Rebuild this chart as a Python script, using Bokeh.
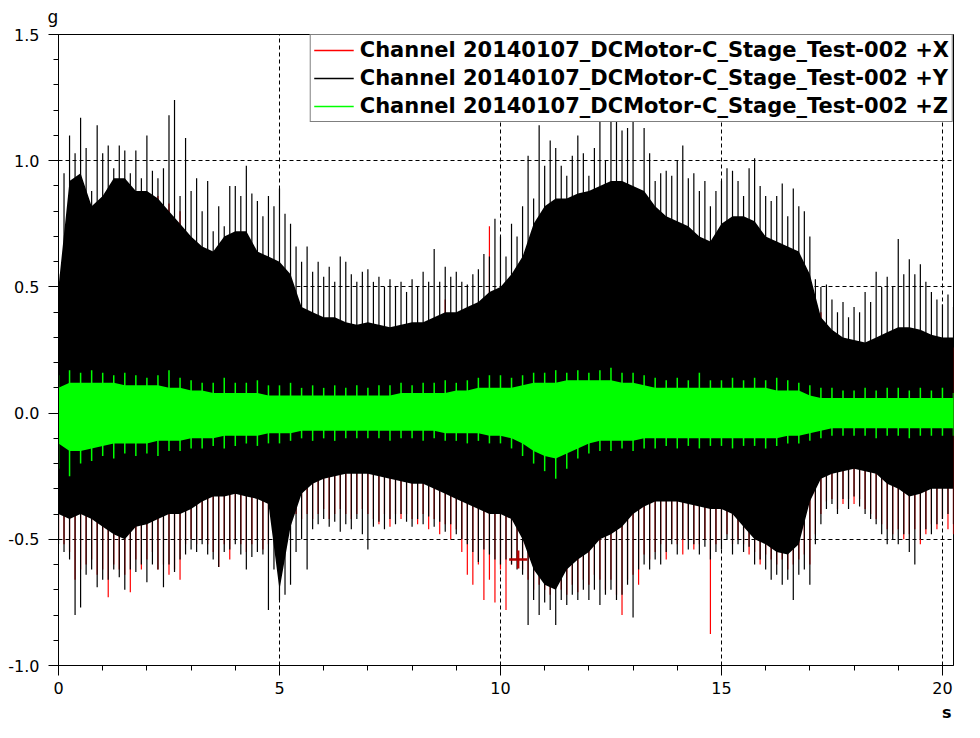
from bokeh.plotting import figure
from bokeh.models import Range1d, FixedTicker, Legend, LegendItem, Title
from bokeh.embed import file_html
from bokeh.resources import INLINE

# coarse time samples (s) for dense envelopes
t = [0.0, 0.25, 0.5, 0.75, 1.0, 1.25, 1.5, 1.75, 2.0, 2.25, 2.5, 2.75,
     3.0, 3.25, 3.5, 3.75, 4.0, 4.25, 4.5, 4.75, 5.0, 5.25, 5.5, 5.75,
     6.0, 6.25, 6.5, 6.75, 7.0, 7.25, 7.5, 7.75, 8.0, 8.25, 8.5, 8.75,
     9.0, 9.25, 9.5, 9.75, 10.0, 10.25, 10.5, 10.75, 11.0, 11.25, 11.5, 11.75,
     12.0, 12.25, 12.5, 12.75, 13.0, 13.25, 13.5, 13.75, 14.0, 14.25, 14.5, 14.75,
     15.0, 15.25, 15.5, 15.75, 16.0, 16.25, 16.5, 16.75, 17.0, 17.25, 17.5, 17.75,
     18.0, 18.25, 18.5, 18.75, 19.0, 19.25, 19.5, 19.75, 20.0, 20.25]

# fine time samples (s) for spike peaks
ts = [0.0, 0.125, 0.25, 0.375, 0.5, 0.625, 0.75, 0.875, 1.0, 1.125, 1.25, 1.375,
      1.5, 1.625, 1.75, 1.875, 2.0, 2.125, 2.25, 2.375, 2.5, 2.625, 2.75, 2.875,
      3.0, 3.125, 3.25, 3.375, 3.5, 3.625, 3.75, 3.875, 4.0, 4.125, 4.25, 4.375,
      4.5, 4.625, 4.75, 4.875, 5.0, 5.125, 5.25, 5.375, 5.5, 5.625, 5.75, 5.875,
      6.0, 6.125, 6.25, 6.375, 6.5, 6.625, 6.75, 6.875, 7.0, 7.125, 7.25, 7.375,
      7.5, 7.625, 7.75, 7.875, 8.0, 8.125, 8.25, 8.375, 8.5, 8.625, 8.75, 8.875,
      9.0, 9.125, 9.25, 9.375, 9.5, 9.625, 9.75, 9.875, 10.0, 10.125, 10.25, 10.375,
      10.5, 10.625, 10.75, 10.875, 11.0, 11.125, 11.25, 11.375, 11.5, 11.625, 11.75, 11.875,
      12.0, 12.125, 12.25, 12.375, 12.5, 12.625, 12.75, 12.875, 13.0, 13.125, 13.25, 13.375,
      13.5, 13.625, 13.75, 13.875, 14.0, 14.125, 14.25, 14.375, 14.5, 14.625, 14.75, 14.875,
      15.0, 15.125, 15.25, 15.375, 15.5, 15.625, 15.75, 15.875, 16.0, 16.125, 16.25, 16.375,
      16.5, 16.625, 16.75, 16.875, 17.0, 17.125, 17.25, 17.375, 17.5, 17.625, 17.75, 17.875,
      18.0, 18.125, 18.25, 18.375, 18.5, 18.625, 18.75, 18.875, 19.0, 19.125, 19.25, 19.375,
      19.5, 19.625, 19.75, 19.875, 20.0, 20.125, 20.25]

# Channel +Y (black), g
y_top_solid = [0.50, 0.92, 0.95, 0.82, 0.86, 0.93, 0.93, 0.88, 0.88, 0.85, 0.80, 0.75,
               0.70, 0.66, 0.64, 0.70, 0.72, 0.72, 0.64, 0.62, 0.60, 0.55, 0.42, 0.40,
               0.38, 0.38, 0.36, 0.35, 0.36, 0.35, 0.34, 0.35, 0.36, 0.36, 0.38, 0.40,
               0.40, 0.42, 0.44, 0.48, 0.50, 0.55, 0.62, 0.75, 0.82, 0.85, 0.85, 0.87,
               0.88, 0.90, 0.92, 0.92, 0.90, 0.88, 0.82, 0.78, 0.76, 0.74, 0.70, 0.68,
               0.75, 0.78, 0.78, 0.76, 0.70, 0.68, 0.66, 0.64, 0.55, 0.38, 0.33, 0.30,
               0.29, 0.28, 0.30, 0.32, 0.34, 0.34, 0.33, 0.31, 0.30, 0.30]
y_bot_solid = [-0.40, -0.42, -0.40, -0.42, -0.45, -0.48, -0.50, -0.45, -0.44, -0.42, -0.40, -0.40,
               -0.38, -0.35, -0.33, -0.33, -0.32, -0.33, -0.34, -0.36, -0.70, -0.45, -0.32, -0.28,
               -0.26, -0.25, -0.24, -0.24, -0.24, -0.25, -0.26, -0.27, -0.28, -0.28, -0.30, -0.32,
               -0.34, -0.36, -0.38, -0.40, -0.40, -0.42, -0.50, -0.62, -0.68, -0.70, -0.62, -0.58,
               -0.55, -0.50, -0.48, -0.45, -0.40, -0.37, -0.35, -0.35, -0.35, -0.36, -0.37, -0.38,
               -0.38, -0.40, -0.45, -0.50, -0.52, -0.55, -0.56, -0.52, -0.35, -0.26, -0.24, -0.23,
               -0.22, -0.23, -0.24, -0.28, -0.30, -0.33, -0.32, -0.30, -0.30, -0.30]
y_top_peak = [0.55, 0.95, 1.10, 1.03, 1.17, 1.05, 0.88, 1.14, 1.03, 1.06, 0.97, 1.06,
              1.04, 0.95, 1.04, 0.93, 1.10, 0.96, 0.93, 0.97, 1.18, 1.24, 0.86, 1.09,
              0.88, 0.93, 0.80, 0.92, 0.72, 0.82, 0.74, 0.90, 0.90, 0.86, 0.98, 0.87,
              0.84, 0.78, 0.86, 0.82, 0.89, 0.79, 0.75, 0.66, 0.60, 0.66, 0.56, 0.60,
              0.54, 0.58, 0.52, 0.62, 0.60, 0.55, 0.52, 0.56, 0.57, 0.52, 0.54, 0.50,
              0.53, 0.50, 0.52, 0.48, 0.53, 0.50, 0.56, 0.52, 0.65, 0.52, 0.58, 0.54,
              0.56, 0.52, 0.51, 0.55, 0.57, 0.63, 0.62, 0.77, 0.70, 0.62, 0.75, 0.70,
              0.82, 1.02, 0.85, 1.14, 0.98, 1.08, 1.05, 0.98, 0.94, 1.02, 1.10, 1.03,
              0.94, 1.05, 1.18, 1.00, 1.18, 1.16, 1.12, 1.13, 1.18, 0.88, 1.13, 1.03,
              0.92, 0.95, 0.96, 0.94, 1.00, 1.06, 0.93, 0.95, 0.88, 0.92, 0.82, 0.88,
              0.92, 0.97, 0.96, 0.92, 0.86, 0.97, 1.01, 0.90, 0.86, 0.84, 0.86, 0.91,
              0.78, 0.89, 0.82, 0.80, 0.70, 0.53, 0.50, 0.51, 0.45, 0.40, 0.44, 0.38,
              0.42, 0.40, 0.48, 0.44, 0.56, 0.50, 0.54, 0.50, 0.69, 0.55, 0.61, 0.55,
              0.59, 0.52, 0.48, 0.45, 0.43, 0.47, 0.42]
y_bot_peak = [-0.52, -0.55, -0.58, -0.80, -0.77, -0.64, -0.62, -0.69, -0.66, -0.66, -0.62, -0.65,
              -0.70, -0.62, -0.63, -0.60, -0.67, -0.60, -0.62, -0.69, -0.60, -0.63, -0.58, -0.56,
              -0.54, -0.55, -0.52, -0.56, -0.58, -0.61, -0.55, -0.54, -0.52, -0.56, -0.62, -0.57,
              -0.55, -0.56, -0.78, -0.62, -0.74, -0.72, -0.68, -0.55, -0.50, -0.62, -0.46, -0.44,
              -0.42, -0.45, -0.43, -0.47, -0.44, -0.46, -0.42, -0.48, -0.54, -0.45, -0.43, -0.46,
              -0.42, -0.44, -0.40, -0.43, -0.45, -0.42, -0.44, -0.41, -0.45, -0.43, -0.47, -0.44,
              -0.48, -0.50, -0.52, -0.55, -0.59, -0.54, -0.56, -0.58, -0.60, -0.58, -0.60, -0.62,
              -0.64, -0.84, -0.74, -0.80, -0.75, -0.78, -0.84, -0.74, -0.76, -0.72, -0.74, -0.70,
              -0.74, -0.70, -0.76, -0.72, -0.70, -0.74, -0.72, -0.68, -0.81, -0.62, -0.60, -0.62,
              -0.58, -0.60, -0.55, -0.52, -0.56, -0.50, -0.54, -0.52, -0.56, -0.53, -0.58, -0.55,
              -0.54, -0.50, -0.56, -0.52, -0.55, -0.53, -0.60, -0.58, -0.62, -0.66, -0.64, -0.68,
              -0.66, -0.74, -0.64, -0.62, -0.68, -0.52, -0.44, -0.38, -0.36, -0.40, -0.34, -0.38,
              -0.33, -0.37, -0.40, -0.42, -0.44, -0.48, -0.52, -0.50, -0.52, -0.48, -0.55, -0.60,
              -0.50, -0.46, -0.48, -0.44, -0.42, -0.40, -0.44]

# Channel +X (red), g
x_top_peak = [0.50, 0.80, 0.85, 0.82, 0.86, 0.88, 0.84, 0.80, 0.84, 0.86, 0.83, 0.80,
              0.68, 0.64, 0.60, 0.64, 0.68, 0.66, 0.62, 0.60, 0.55, 0.42, 0.36, 0.33,
              0.31, 0.30, 0.28, 0.26, 0.28, 0.26, 0.25, 0.25, 0.26, 0.28, 0.28, 0.45,
              0.34, 0.36, 0.38, 0.74, 0.42, 0.46, 0.58, 0.70, 0.76, 0.80, 0.82, 0.84,
              0.86, 0.88, 0.90, 0.88, 0.86, 0.84, 0.78, 0.72, 0.70, 0.68, 0.66, 0.64,
              0.70, 0.72, 0.72, 0.68, 0.64, 0.62, 0.58, 0.56, 0.48, 0.40, 0.28, 0.26,
              0.24, 0.23, 0.22, 0.20, 0.22, 0.24, 0.25, 0.24, 0.23, 0.26]
x_bot_peak = [-0.50, -0.52, -0.55, -0.66, -0.62, -0.60, -0.58, -0.64, -0.62, -0.73, -0.60, -0.62,
              -0.64, -0.71, -0.58, -0.62, -0.58, -0.55, -0.62, -0.60, -0.64, -0.62, -0.66, -0.52,
              -0.50, -0.52, -0.50, -0.52, -0.55, -0.61, -0.52, -0.58, -0.50, -0.52, -0.55, -0.52,
              -0.50, -0.54, -0.52, -0.50, -0.60, -0.55, -0.42, -0.40, -0.42, -0.40, -0.42, -0.40,
              -0.38, -0.42, -0.40, -0.38, -0.40, -0.42, -0.40, -0.38, -0.40, -0.42, -0.44, -0.40,
              -0.45, -0.40, -0.42, -0.40, -0.42, -0.44, -0.40, -0.46, -0.42, -0.48, -0.44, -0.50,
              -0.46, -0.55, -0.64, -0.68, -0.60, -0.74, -0.66, -0.75, -0.62, -0.78, -0.60, -0.58,
              -0.62, -0.66, -0.70, -0.68, -0.70, -0.72, -0.68, -0.70, -0.72, -0.68, -0.71, -0.66,
              -0.68, -0.64, -0.66, -0.70, -0.66, -0.72, -0.80, -0.66, -0.64, -0.68, -0.56, -0.58,
              -0.55, -0.52, -0.58, -0.50, -0.52, -0.56, -0.50, -0.54, -0.52, -0.50, -0.875, -0.52,
              -0.50, -0.48, -0.52, -0.50, -0.52, -0.56, -0.55, -0.60, -0.56, -0.58, -0.60, -0.58,
              -0.62, -0.60, -0.58, -0.56, -0.60, -0.48, -0.40, -0.35, -0.34, -0.38, -0.36, -0.34,
              -0.36, -0.34, -0.38, -0.40, -0.42, -0.44, -0.46, -0.48, -0.46, -0.50, -0.48, -0.46,
              -0.52, -0.48, -0.44, -0.46, -0.42, -0.46, -0.48]

# Channel +Z (green), g
z_top_solid = [0.10, 0.12, 0.12, 0.12, 0.12, 0.12, 0.11, 0.11, 0.11, 0.11, 0.10, 0.10,
               0.09, 0.09, 0.08, 0.08, 0.08, 0.08, 0.08, 0.07, 0.07, 0.07, 0.07, 0.07,
               0.07, 0.07, 0.07, 0.07, 0.07, 0.07, 0.07, 0.08, 0.08, 0.08, 0.08, 0.08,
               0.09, 0.09, 0.10, 0.10, 0.10, 0.10, 0.11, 0.12, 0.12, 0.12, 0.13, 0.13,
               0.13, 0.13, 0.13, 0.12, 0.12, 0.11, 0.10, 0.10, 0.10, 0.10, 0.10, 0.10,
               0.10, 0.10, 0.10, 0.10, 0.10, 0.09, 0.09, 0.09, 0.07, 0.06, 0.06, 0.06,
               0.06, 0.06, 0.06, 0.06, 0.06, 0.06, 0.06, 0.06, 0.06, 0.06]
z_top_peak = [0.15, 0.17, 0.16, 0.17, 0.16, 0.15, 0.16, 0.15, 0.14, 0.15, 0.17, 0.14,
              0.13, 0.12, 0.12, 0.14, 0.12, 0.12, 0.13, 0.11, 0.11, 0.12, 0.10, 0.11,
              0.10, 0.11, 0.10, 0.11, 0.10, 0.11, 0.11, 0.12, 0.11, 0.12, 0.12, 0.13,
              0.12, 0.13, 0.14, 0.15, 0.15, 0.14, 0.15, 0.16, 0.16, 0.17, 0.16, 0.17,
              0.16, 0.17, 0.18, 0.16, 0.16, 0.15, 0.14, 0.13, 0.14, 0.13, 0.16, 0.13,
              0.13, 0.14, 0.13, 0.14, 0.13, 0.14, 0.13, 0.12, 0.11, 0.10, 0.10, 0.09,
              0.09, 0.10, 0.09, 0.10, 0.10, 0.09, 0.10, 0.09, 0.10, 0.08]
z_bot_solid = [-0.12, -0.15, -0.15, -0.14, -0.13, -0.12, -0.12, -0.12, -0.12, -0.11, -0.11, -0.11,
               -0.10, -0.10, -0.10, -0.09, -0.09, -0.09, -0.09, -0.08, -0.08, -0.08, -0.07, -0.07,
               -0.07, -0.07, -0.07, -0.07, -0.07, -0.07, -0.07, -0.07, -0.07, -0.07, -0.07, -0.08,
               -0.08, -0.08, -0.08, -0.09, -0.09, -0.10, -0.12, -0.15, -0.17, -0.18, -0.16, -0.14,
               -0.12, -0.11, -0.11, -0.11, -0.11, -0.10, -0.10, -0.10, -0.10, -0.10, -0.10, -0.10,
               -0.10, -0.10, -0.10, -0.10, -0.10, -0.10, -0.09, -0.09, -0.08, -0.07, -0.06, -0.06,
               -0.06, -0.06, -0.06, -0.06, -0.06, -0.06, -0.06, -0.06, -0.06, -0.06]
z_bot_peak = [-0.22, -0.25, -0.20, -0.19, -0.17, -0.18, -0.16, -0.17, -0.16, -0.17, -0.15, -0.15,
              -0.14, -0.14, -0.13, -0.14, -0.13, -0.12, -0.13, -0.12, -0.12, -0.11, -0.10, -0.11,
              -0.10, -0.11, -0.10, -0.10, -0.10, -0.10, -0.11, -0.10, -0.10, -0.11, -0.10, -0.11,
              -0.11, -0.12, -0.11, -0.12, -0.12, -0.14, -0.17, -0.20, -0.23, -0.26, -0.22, -0.18,
              -0.16, -0.15, -0.15, -0.14, -0.15, -0.14, -0.14, -0.13, -0.14, -0.13, -0.14, -0.13,
              -0.13, -0.14, -0.13, -0.13, -0.14, -0.13, -0.12, -0.12, -0.11, -0.10, -0.09, -0.09,
              -0.09, -0.09, -0.10, -0.09, -0.09, -0.10, -0.09, -0.09, -0.09, -0.09]

# cursor marker
cursor_t = [10.4]
cursor_v = [-0.58]

labels = ["Channel 20140107_DCMotor-C_Stage_Test-002 +X",
          "Channel 20140107_DCMotor-C_Stage_Test-002 +Y",
          "Channel 20140107_DCMotor-C_Stage_Test-002 +Z"]
x_ticks = [0, 5, 10, 15, 20]
y_ticks = [-1.0, -0.5, 0.0, 0.5, 1.0, 1.5]

for arr in (y_top_solid, y_bot_solid, x_top_peak, z_top_solid, z_top_peak, z_bot_solid, z_bot_peak):
    assert len(arr) == len(t), len(arr)
for arr in (y_top_peak, y_bot_peak, x_bot_peak):
    assert len(arr) == len(ts), len(arr)

RED = "#ff0000"
BLACK = "#000000"
GREEN = "#00ff00"
FONT = "DejaVu Sans"

p = figure(width=980, height=738, output_backend="svg", toolbar_location=None,
           x_range=Range1d(0, 20.25), y_range=Range1d(-1.0, 1.5),
           min_border_left=58, min_border_right=27, min_border_top=33, min_border_bottom=73)
p.background_fill_color = "white"
p.border_fill_color = "white"
p.outline_line_color = "black"
p.outline_line_width = 1

# axis unit labels as titles
p.title = Title(text="g", align="left", offset=-11, standoff=12, vertical_align="top",
                text_font=FONT, text_font_size="17px", text_font_style="normal",
                text_color="black")
p.add_layout(Title(text="s", align="right", offset=2, standoff=8,
                   text_font=FONT, text_font_size="16px", text_font_style="bold",
                   text_color="black"), "below")

# grid
p.xgrid.ticker = FixedTicker(ticks=[5, 10, 15, 20])
p.ygrid.ticker = FixedTicker(ticks=[-0.5, 0.0, 0.5, 1.0])
for g in (p.xgrid[0], p.ygrid[0]):
    g.grid_line_color = "black"
    g.grid_line_dash = "4 3"
    g.grid_line_width = 1

# axes
p.xaxis.ticker = FixedTicker(ticks=x_ticks, minor_ticks=list(range(0, 21)))
p.yaxis.ticker = FixedTicker(ticks=y_ticks,
                             minor_ticks=[v / 10 for v in range(-10, 16)])
for ax in (p.xaxis[0], p.yaxis[0]):
    ax.axis_line_color = "black"
    ax.major_tick_line_color = "black"
    ax.minor_tick_line_color = "black"
    ax.major_tick_in = 0
    ax.minor_tick_in = 0
    ax.major_tick_out = 10
    ax.minor_tick_out = 5
    ax.major_label_text_font = FONT
    ax.major_label_text_font_size = "16px"
    ax.major_label_text_color = "black"
p.xaxis.major_label_standoff = 6
p.yaxis.major_label_standoff = 9
p.yaxis.major_label_overrides = {-1.0: "-1.0", -0.5: "-0.5", 0.0: "0.0", 0.5: "0.5", 1.0: "1.0", 1.5: "1.5"}
p.xaxis.major_label_overrides = {0: "0", 5: "5", 10: "10", 15: "15", 20: "20"}

# data
p.segment(x0=ts, y0=x_bot_peak, x1=ts, y1=[0.0] * len(ts), line_color=RED, line_width=1.2)
p.segment(x0=t, y0=[0.0] * len(t), x1=t, y1=x_top_peak, line_color=RED, line_width=1.2)
p.varea(x=t, y1=y_bot_solid, y2=y_top_solid, fill_color=BLACK)
p.segment(x0=ts, y0=y_bot_peak, x1=ts, y1=y_top_peak, line_color=BLACK, line_width=1.2)
p.varea(x=t, y1=z_bot_solid, y2=z_top_solid, fill_color=GREEN)
p.segment(x0=t, y0=z_bot_peak, x1=t, y1=z_top_peak, line_color=GREEN, line_width=1.5)
p.scatter(x=cursor_t, y=cursor_v, marker="cross", size=18, line_color="#b00000", line_width=2.5)

# legend swatches: tiny lines placed left of the visible x range (clipped away)
lx = p.line(x=[-2.0, -1.0], y=[0.0, 0.0], line_color=RED, line_width=1.5)
ly = p.line(x=[-2.0, -1.0], y=[0.0, 0.0], line_color=BLACK, line_width=1.5)
lz = p.line(x=[-2.0, -1.0], y=[0.0, 0.0], line_color=GREEN, line_width=1.5)

legend = Legend(items=[LegendItem(label=labels[0], renderers=[lx]),
                       LegendItem(label=labels[1], renderers=[ly]),
                       LegendItem(label=labels[2], renderers=[lz])],
                location="top_right", margin=0, padding=3, spacing=4,
                glyph_width=40, glyph_height=22, label_height=22, label_standoff=6,
                border_line_color="black", border_line_width=1,
                background_fill_color="white", background_fill_alpha=1.0,
                label_text_font=FONT, label_text_font_style="bold",
                label_text_font_size="21px", label_text_color="black")
p.add_layout(legend)

open("out.html", "w").write(file_html(p, INLINE))
